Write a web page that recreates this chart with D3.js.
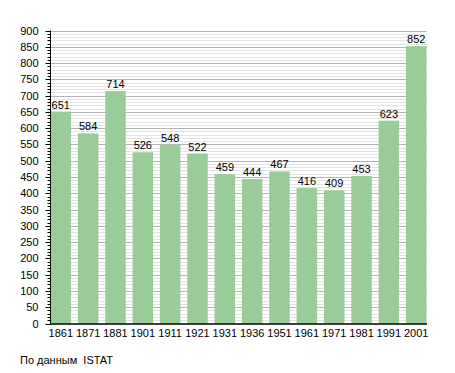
<!DOCTYPE html>
<html>
<head>
<meta charset="utf-8">
<script src="https://cdnjs.cloudflare.com/ajax/libs/d3/7.8.5/d3.min.js"></script>
<style>
  body { margin: 0; background: #fff; }
  svg { font-family: "Liberation Sans", Arial, sans-serif; font-size: 11px; }
</style>
</head>
<body>
<svg width="455" height="373"></svg>
<script>
var years = ["1861", "1871", "1881", "1901", "1911", "1921", "1931", "1936", "1951", "1961", "1971", "1981", "1991", "2001"];
var population = [651, 584, 714, 526, 548, 522, 459, 444, 467, 416, 409, 453, 623, 852];
var yMax = 900;
var sourceNote = "По данным  ISTAT";

var svg = d3.select("svg");

var x = d3.scaleBand()
    .domain(years)
    .range([50, 427])
    .paddingInner(0.25)
    .paddingOuter(0.02);

var y = d3.scaleLinear()
    .domain([0, yMax])
    .range([323.5, 30.5]);

// minor gridlines every 10
svg.append("g").selectAll("line")
    .data(d3.range(10, yMax + 1, 10).filter(function(v) { return v % 50 != 0; }))
  .enter().append("line")
    .attr("x1", 50).attr("x2", 427)
    .attr("y1", function(d) { return Math.round(y(d)) + 0.5; })
    .attr("y2", function(d) { return Math.round(y(d)) + 0.5; })
    .attr("stroke", "#e4e4e4");

// major gridlines every 50
svg.append("g").selectAll("line")
    .data(d3.range(50, yMax + 1, 50))
  .enter().append("line")
    .attr("x1", 50).attr("x2", 427)
    .attr("y1", function(d) { return Math.round(y(d)) + 0.5; })
    .attr("y2", function(d) { return Math.round(y(d)) + 0.5; })
    .attr("stroke", "#b4b4b4");

// bars
svg.append("g").selectAll("rect")
    .data(population)
  .enter().append("rect")
    .attr("x", function(d, i) { return x(years[i]); })
    .attr("y", function(d) { return y(d); })
    .attr("width", x.bandwidth())
    .attr("height", function(d) { return y(0) - y(d); })
    .attr("fill", "#99cc99");

// value labels
svg.append("g").selectAll("text")
    .data(population)
  .enter().append("text")
    .attr("x", function(d, i) { return x(years[i]) + x.bandwidth() / 2; })
    .attr("y", function(d) { return y(d) - 3; })
    .attr("text-anchor", "middle")
    .attr("fill", "#000")
    .text(function(d) { return d; });

// y axis with minor ticks
var yAxis = svg.append("g").attr("transform", "translate(50.5,0)");
yAxis.append("line")
    .attr("y1", y(yMax)).attr("y2", y(0))
    .attr("stroke", "#000");
yAxis.selectAll(".minor")
    .data(d3.range(0, yMax + 1, 10))
  .enter().append("line")
    .attr("class", "minor")
    .attr("x1", function(d) { return d % 50 == 0 ? -5 : -3; })
    .attr("x2", 0)
    .attr("y1", function(d) { return Math.round(y(d)) + 0.5; })
    .attr("y2", function(d) { return Math.round(y(d)) + 0.5; })
    .attr("stroke", "#000");
yAxis.selectAll("text")
    .data(d3.range(0, yMax + 1, 50))
  .enter().append("text")
    .attr("x", -12)
    .attr("y", function(d) { return y(d) + 4; })
    .attr("text-anchor", "end")
    .text(function(d) { return d; });

// x axis
svg.append("line")
    .attr("x1", 50).attr("x2", 427)
    .attr("y1", 324).attr("y2", 324)
    .attr("stroke", "#000")
    .attr("stroke-width", 1.5);

svg.append("g").selectAll("text")
    .data(years)
  .enter().append("text")
    .attr("x", function(d) { return x(d) + x.bandwidth() / 2; })
    .attr("y", 337)
    .attr("text-anchor", "middle")
    .text(function(d) { return d; });

svg.append("text")
    .attr("x", 20)
    .attr("y", 364)
    .style("white-space", "pre")
    .text(sourceNote);
</script>
</body>
</html>
